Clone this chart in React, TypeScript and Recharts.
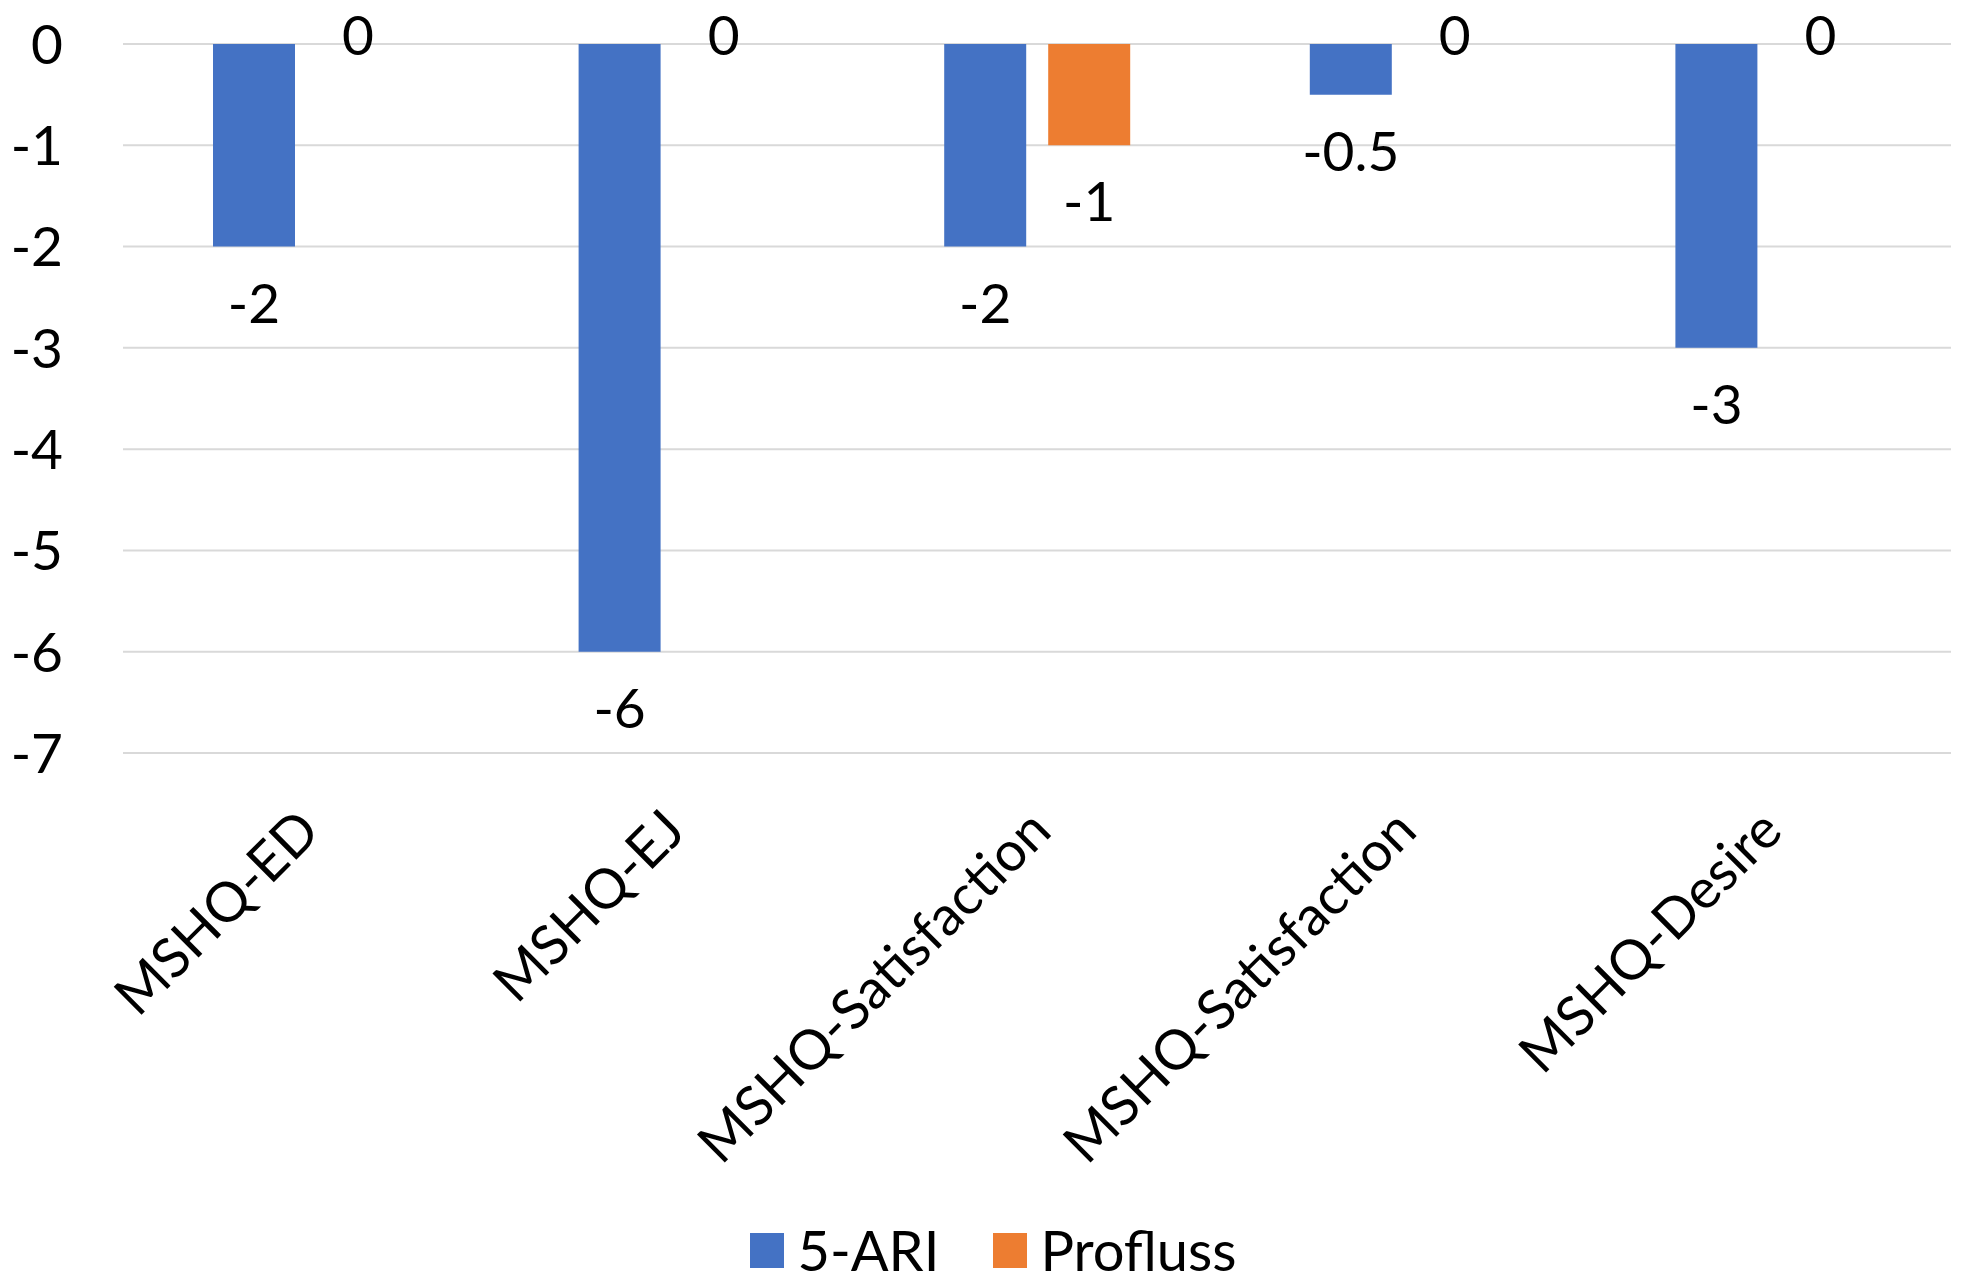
import React from "react";
import { BarChart, Bar, XAxis, YAxis, CartesianGrid, Legend, LabelList, Rectangle } from "recharts";

const categories = ["MSHQ-ED", "MSHQ-EJ", "MSHQ-Satisfaction", "MSHQ-Satisfaction", "MSHQ-Desire"];
const ariValues = [-2, -6, -2, -0.5, -3];
const proflussValues = [0, 0, -1, 0, 0];
const yTicks = [0, -1, -2, -3, -4, -5, -6, -7];

const seriesNames = { ari: "5-ARI", profluss: "Profluss" };
const colors = { ari: "#4472C4", profluss: "#ED7D31" };

const data = categories.map((name, i) => ({ name, ari: ariValues[i], profluss: proflussValues[i] }));

const FONT = "Lato, 'Noto Sans', sans-serif";
const FS = 55;

const YTick = (props: any) => {
  const { x, y, payload } = props;
  return (
    <text x={x} y={y} dy="0.36em" textAnchor="end" fontFamily={FONT} fontSize={FS} fill="#000">
      {payload.value}
    </text>
  );
};

const XTick = (props: any) => {
  const { x, y, payload } = props;
  return (
    <g transform={`translate(${x + 3}, ${y + 67}) rotate(-45)`}>
      <text x={0} y={0} dy="0.35em" textAnchor="end" fontFamily={FONT} fontSize={FS} fill="#000">
        {payload.value}
      </text>
    </g>
  );
};

const BarLabel = (props: any) => {
  const { x, y, width, height, value } = props;
  const top = Math.min(y, y + height);
  const bottom = Math.max(y, y + height);
  const cx = x + width / 2;
  const isZero = Number(value) === 0;
  const baseline = isZero ? bottom + 11 : bottom + 76;
  return (
    <text x={cx} y={baseline} textAnchor="middle" fontFamily={FONT} fontSize={FS} fill="#000">
      {value}
    </text>
  );
};

// zero-valued bars get a 1px minimum so their labels render; hide that sliver
const BarShape = (props: any) => {
  if (Math.abs(props.height) <= 1.01) return <g />;
  return <Rectangle {...props} />;
};

const LegendContent = () => (
  <div
    style={{
      display: "flex",
      justifyContent: "center",
      alignItems: "center",
      height: 60,
      fontFamily: FONT,
      fontSize: 56,
      color: "#000",
      paddingLeft: 36,
    }}
  >
    {(["ari", "profluss"] as const).map((k, i) => (
      <div key={k} style={{ display: "flex", alignItems: "center", marginLeft: i ? 54 : 0 }}>
        <div style={{ width: 34, height: 35, background: colors[k], marginRight: 13 }} />
        <span style={{ lineHeight: "60px" }}>{seriesNames[k]}</span>
      </div>
    ))}
  </div>
);

export default function App() {
  return (
    <div style={{ width: 1966, height: 1285, background: "#fff" }}>
      <style>{"body{margin:0;background:#fff}"}</style>
      <BarChart
        width={1966}
        height={1285}
        data={data}
        margin={{ top: 44, right: 15, bottom: 5, left: 0 }}
        barSize={82}
        barGap={22}
      >
        <CartesianGrid horizontal vertical={false} stroke="#D9D9D9" strokeWidth={2} />
        <XAxis
          dataKey="name"
          axisLine={false}
          tickLine={false}
          tickSize={0}
          tickMargin={0}
          height={467}
          interval={0}
          tick={<XTick />}
        />
        <YAxis
          domain={[-7, 0]}
          ticks={yTicks}
          axisLine={false}
          tickLine={false}
          tickSize={0}
          tickMargin={60}
          width={123}
          tick={<YTick />}
        />
        <Legend verticalAlign="bottom" content={<LegendContent />} />
        <Bar
          dataKey="ari"
          name={seriesNames.ari}
          fill={colors.ari}
          minPointSize={1}
          shape={<BarShape />}
          isAnimationActive={false}
        >
          <LabelList dataKey="ari" content={<BarLabel />} />
        </Bar>
        <Bar
          dataKey="profluss"
          name={seriesNames.profluss}
          fill={colors.profluss}
          minPointSize={1}
          shape={<BarShape />}
          isAnimationActive={false}
        >
          <LabelList dataKey="profluss" content={<BarLabel />} />
        </Bar>
      </BarChart>
    </div>
  );
}
